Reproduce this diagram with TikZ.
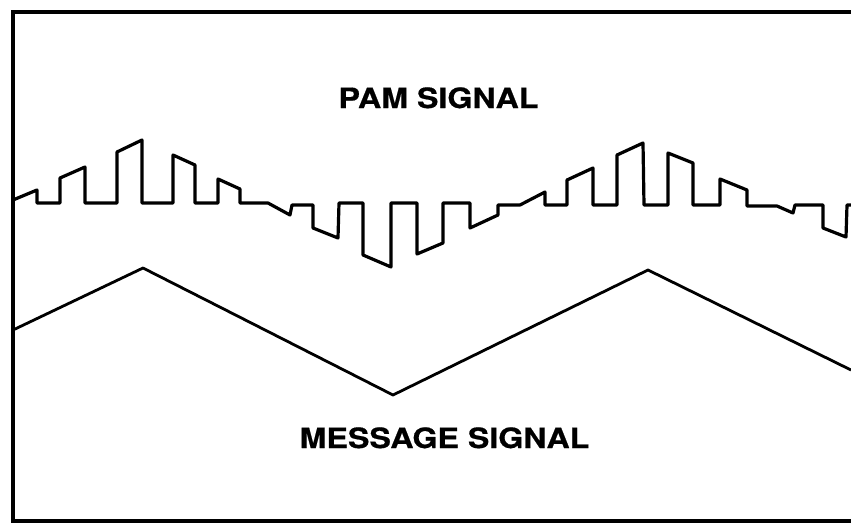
\documentclass[tikz,border=0pt]{standalone}
\usepackage{fontspec}
\newfontfamily\lblfont[FakeStretch=1.15,FakeBold=0.6]{TeX Gyre Heros}
\begin{document}
\begin{tikzpicture}[x=1pt,y=-1pt,
  frame/.style={line width=3.2pt, line join=miter},
  pam/.style={line width=3.2pt, line join=round, line cap=round},
  msg/.style={line width=2.8pt, line join=round},
  lbl/.style={font=\lblfont\bfseries\fontsize{28}{30}\selectfont, anchor=base, inner sep=0pt}]
\useasboundingbox (0,0) rectangle (851,525);
% frame (open on the right)
\draw[frame] (851,12) -- (13,12) -- (13,521) -- (851,521);
% PAM signal
\draw[pam] (13,200) -- (37,190) -- (37,203) -- (60,203) -- (60,178) -- (85,167) -- (85,203)
  -- (117,203) -- (117,152) -- (142,140) -- (142,203) -- (173,203) -- (173,155) -- (195,165)
  -- (195,203) -- (218,203) -- (218,179) -- (240,189) -- (240,203) -- (268,203) -- (290,215)
  -- (292,205) -- (313,205) -- (313,228) -- (338,238) -- (339,203) -- (363,203) -- (363,255)
  -- (391,267) -- (391,203) -- (417,203) -- (417,254) -- (443,243) -- (443,203) -- (470,203)
  -- (470,228) -- (498,215) -- (498,205) -- (520,205) -- (545,192) -- (545,205) -- (567,205)
  -- (567,180) -- (593,168) -- (593,205) -- (617,205) -- (617,155) -- (643,143) -- (644,205)
  -- (668,205) -- (668,153) -- (693,163) -- (693,205) -- (720,205) -- (720,179) -- (747,190)
  -- (747,206) -- (777,206) -- (793,213) -- (795,205) -- (823,205) -- (823,228) -- (846,237)
  -- (847,205) -- (851,205);
% message signal
\draw[msg] (13,330) -- (143,268) -- (393,395) -- (648,270) -- (851,370);
% labels
\node[lbl] (pamlabel) at (438.5,108) {PAM SIGNAL};
\node[lbl] (msglabel) at (444.5,448) {MESSAGE SIGNAL};
\end{tikzpicture}
\end{document}
